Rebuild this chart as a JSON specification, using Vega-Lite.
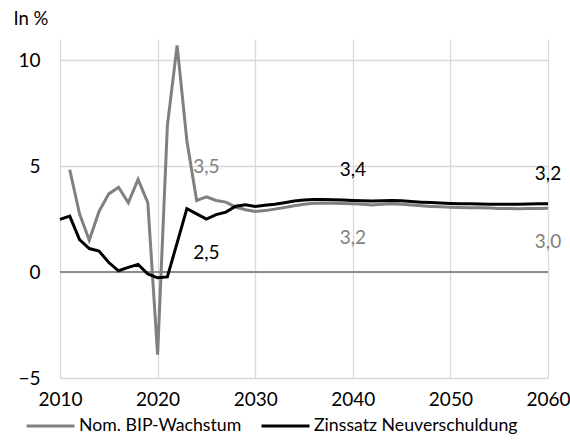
{
  "$schema": "https://vega.github.io/schema/vega-lite/v6.json",
  "width": 488,
  "height": 339,
  "autosize": {"type": "none"},
  "padding": {"left": 60, "top": 39, "right": 22, "bottom": 70},
  "background": "white",
  "config": {
    "font": "Lato",
    "view": {"stroke": null},
    "axis": {"labelFont": "Lato", "labelFontSize": 19, "labelColor": "#000000", "domain": false, "ticks": false, "gridColor": "#d9d9d9", "gridWidth": 1.3, "labelFlush": false}
  },
  "data": {"values": [
    {"year": 2011, "series": "Nom. BIP-Wachstum", "value": 4.83},
    {"year": 2012, "series": "Nom. BIP-Wachstum", "value": 2.75},
    {"year": 2013, "series": "Nom. BIP-Wachstum", "value": 1.5},
    {"year": 2014, "series": "Nom. BIP-Wachstum", "value": 2.86},
    {"year": 2015, "series": "Nom. BIP-Wachstum", "value": 3.69},
    {"year": 2016, "series": "Nom. BIP-Wachstum", "value": 4.0},
    {"year": 2017, "series": "Nom. BIP-Wachstum", "value": 3.27},
    {"year": 2018, "series": "Nom. BIP-Wachstum", "value": 4.37},
    {"year": 2019, "series": "Nom. BIP-Wachstum", "value": 3.27},
    {"year": 2020, "series": "Nom. BIP-Wachstum", "value": -3.9},
    {"year": 2021, "series": "Nom. BIP-Wachstum", "value": 6.9},
    {"year": 2022, "series": "Nom. BIP-Wachstum", "value": 10.7},
    {"year": 2023, "series": "Nom. BIP-Wachstum", "value": 6.2},
    {"year": 2024, "series": "Nom. BIP-Wachstum", "value": 3.38},
    {"year": 2025, "series": "Nom. BIP-Wachstum", "value": 3.55, "label": "3,5"},
    {"year": 2026, "series": "Nom. BIP-Wachstum", "value": 3.38},
    {"year": 2027, "series": "Nom. BIP-Wachstum", "value": 3.3},
    {"year": 2028, "series": "Nom. BIP-Wachstum", "value": 3.07},
    {"year": 2029, "series": "Nom. BIP-Wachstum", "value": 2.94},
    {"year": 2030, "series": "Nom. BIP-Wachstum", "value": 2.86},
    {"year": 2031, "series": "Nom. BIP-Wachstum", "value": 2.9},
    {"year": 2032, "series": "Nom. BIP-Wachstum", "value": 2.97},
    {"year": 2033, "series": "Nom. BIP-Wachstum", "value": 3.05},
    {"year": 2034, "series": "Nom. BIP-Wachstum", "value": 3.13},
    {"year": 2035, "series": "Nom. BIP-Wachstum", "value": 3.2},
    {"year": 2036, "series": "Nom. BIP-Wachstum", "value": 3.25},
    {"year": 2037, "series": "Nom. BIP-Wachstum", "value": 3.26},
    {"year": 2038, "series": "Nom. BIP-Wachstum", "value": 3.25},
    {"year": 2039, "series": "Nom. BIP-Wachstum", "value": 3.24},
    {"year": 2040, "series": "Nom. BIP-Wachstum", "value": 3.22, "label": "3,2"},
    {"year": 2041, "series": "Nom. BIP-Wachstum", "value": 3.2},
    {"year": 2042, "series": "Nom. BIP-Wachstum", "value": 3.17},
    {"year": 2043, "series": "Nom. BIP-Wachstum", "value": 3.2},
    {"year": 2044, "series": "Nom. BIP-Wachstum", "value": 3.22},
    {"year": 2045, "series": "Nom. BIP-Wachstum", "value": 3.2},
    {"year": 2046, "series": "Nom. BIP-Wachstum", "value": 3.17},
    {"year": 2047, "series": "Nom. BIP-Wachstum", "value": 3.13},
    {"year": 2048, "series": "Nom. BIP-Wachstum", "value": 3.1},
    {"year": 2049, "series": "Nom. BIP-Wachstum", "value": 3.08},
    {"year": 2050, "series": "Nom. BIP-Wachstum", "value": 3.06},
    {"year": 2051, "series": "Nom. BIP-Wachstum", "value": 3.05},
    {"year": 2052, "series": "Nom. BIP-Wachstum", "value": 3.04},
    {"year": 2053, "series": "Nom. BIP-Wachstum", "value": 3.03},
    {"year": 2054, "series": "Nom. BIP-Wachstum", "value": 3.02},
    {"year": 2055, "series": "Nom. BIP-Wachstum", "value": 3.0},
    {"year": 2056, "series": "Nom. BIP-Wachstum", "value": 3.0},
    {"year": 2057, "series": "Nom. BIP-Wachstum", "value": 2.99},
    {"year": 2058, "series": "Nom. BIP-Wachstum", "value": 3.0},
    {"year": 2059, "series": "Nom. BIP-Wachstum", "value": 3.0},
    {"year": 2060, "series": "Nom. BIP-Wachstum", "value": 3.01, "label": "3,0"},
    {"year": 2010, "series": "Zinssatz Neuverschuldung", "value": 2.49},
    {"year": 2011, "series": "Zinssatz Neuverschuldung", "value": 2.64},
    {"year": 2012, "series": "Zinssatz Neuverschuldung", "value": 1.53},
    {"year": 2013, "series": "Zinssatz Neuverschuldung", "value": 1.11},
    {"year": 2014, "series": "Zinssatz Neuverschuldung", "value": 0.99},
    {"year": 2015, "series": "Zinssatz Neuverschuldung", "value": 0.45},
    {"year": 2016, "series": "Zinssatz Neuverschuldung", "value": 0.06},
    {"year": 2017, "series": "Zinssatz Neuverschuldung", "value": 0.22},
    {"year": 2018, "series": "Zinssatz Neuverschuldung", "value": 0.36},
    {"year": 2019, "series": "Zinssatz Neuverschuldung", "value": -0.09},
    {"year": 2020, "series": "Zinssatz Neuverschuldung", "value": -0.27},
    {"year": 2021, "series": "Zinssatz Neuverschuldung", "value": -0.23},
    {"year": 2022, "series": "Zinssatz Neuverschuldung", "value": 1.38},
    {"year": 2023, "series": "Zinssatz Neuverschuldung", "value": 2.99},
    {"year": 2024, "series": "Zinssatz Neuverschuldung", "value": 2.75},
    {"year": 2025, "series": "Zinssatz Neuverschuldung", "value": 2.5, "label": "2,5"},
    {"year": 2026, "series": "Zinssatz Neuverschuldung", "value": 2.71},
    {"year": 2027, "series": "Zinssatz Neuverschuldung", "value": 2.83},
    {"year": 2028, "series": "Zinssatz Neuverschuldung", "value": 3.11},
    {"year": 2029, "series": "Zinssatz Neuverschuldung", "value": 3.18},
    {"year": 2030, "series": "Zinssatz Neuverschuldung", "value": 3.1},
    {"year": 2031, "series": "Zinssatz Neuverschuldung", "value": 3.15},
    {"year": 2032, "series": "Zinssatz Neuverschuldung", "value": 3.2},
    {"year": 2033, "series": "Zinssatz Neuverschuldung", "value": 3.27},
    {"year": 2034, "series": "Zinssatz Neuverschuldung", "value": 3.35},
    {"year": 2035, "series": "Zinssatz Neuverschuldung", "value": 3.4},
    {"year": 2036, "series": "Zinssatz Neuverschuldung", "value": 3.42},
    {"year": 2037, "series": "Zinssatz Neuverschuldung", "value": 3.42},
    {"year": 2038, "series": "Zinssatz Neuverschuldung", "value": 3.41},
    {"year": 2039, "series": "Zinssatz Neuverschuldung", "value": 3.4},
    {"year": 2040, "series": "Zinssatz Neuverschuldung", "value": 3.38, "label": "3,4"},
    {"year": 2041, "series": "Zinssatz Neuverschuldung", "value": 3.37},
    {"year": 2042, "series": "Zinssatz Neuverschuldung", "value": 3.35},
    {"year": 2043, "series": "Zinssatz Neuverschuldung", "value": 3.37},
    {"year": 2044, "series": "Zinssatz Neuverschuldung", "value": 3.38},
    {"year": 2045, "series": "Zinssatz Neuverschuldung", "value": 3.36},
    {"year": 2046, "series": "Zinssatz Neuverschuldung", "value": 3.33},
    {"year": 2047, "series": "Zinssatz Neuverschuldung", "value": 3.3},
    {"year": 2048, "series": "Zinssatz Neuverschuldung", "value": 3.28},
    {"year": 2049, "series": "Zinssatz Neuverschuldung", "value": 3.26},
    {"year": 2050, "series": "Zinssatz Neuverschuldung", "value": 3.24},
    {"year": 2051, "series": "Zinssatz Neuverschuldung", "value": 3.23},
    {"year": 2052, "series": "Zinssatz Neuverschuldung", "value": 3.22},
    {"year": 2053, "series": "Zinssatz Neuverschuldung", "value": 3.21},
    {"year": 2054, "series": "Zinssatz Neuverschuldung", "value": 3.2},
    {"year": 2055, "series": "Zinssatz Neuverschuldung", "value": 3.2},
    {"year": 2056, "series": "Zinssatz Neuverschuldung", "value": 3.2},
    {"year": 2057, "series": "Zinssatz Neuverschuldung", "value": 3.2},
    {"year": 2058, "series": "Zinssatz Neuverschuldung", "value": 3.21},
    {"year": 2059, "series": "Zinssatz Neuverschuldung", "value": 3.22},
    {"year": 2060, "series": "Zinssatz Neuverschuldung", "value": 3.22, "label": "3,2"}
  ]},
  "encoding": {
    "x": {"field": "year", "type": "quantitative", "scale": {"domain": [2010, 2060], "nice": false, "zero": false},
      "axis": {"values": [2010, 2020, 2030, 2040, 2050, 2060], "format": "d", "title": null, "labelPadding": 12, "grid": true}},
    "y": {"field": "value", "type": "quantitative", "scale": {"domain": [-5, 11], "nice": false},
      "axis": {"values": [-5, 0, 5, 10], "title": "In %", "titleAngle": 0, "titleX": -47, "titleY": -21, "titleAlign": "left", "titleBaseline": "middle", "titleFont": "Lato", "titleFontSize": 18.5, "titleFontWeight": "normal", "labelPadding": 20}}
  },
  "layer": [
    {"mark": {"type": "rule", "color": "#8c8c8c", "strokeWidth": 1.3}, "encoding": {"y": {"datum": 0}, "x": null}},
    {"mark": {"type": "line", "strokeWidth": 3},
      "encoding": {"color": {"field": "series", "type": "nominal",
        "scale": {"domain": ["Nom. BIP-Wachstum", "Zinssatz Neuverschuldung"], "range": ["#808080", "#000000"]},
        "legend": {"title": null, "orient": "none", "direction": "horizontal", "legendX": -35, "legendY": 361,
          "symbolType": "stroke", "symbolSize": 2300, "symbolStrokeWidth": 3, "labelFontSize": 17.7, "labelFont": "Lato", "labelColor": "#000000", "labelOffset": 3, "columnPadding": 13, "labelLimit": 400}}}},
    {"transform": [{"filter": "datum.label && ((datum.series == 'Nom. BIP-Wachstum' && datum.year == 2025) || (datum.series == 'Zinssatz Neuverschuldung' && datum.year != 2025))"}],
      "mark": {"type": "text", "dy": -30, "fontSize": 19, "font": "Lato"},
      "encoding": {"text": {"field": "label"}, "color": {"field": "series", "type": "nominal", "scale": {"range": ["#808080", "#000000"]}, "legend": null}}},
    {"transform": [{"filter": "datum.label && !((datum.series == 'Nom. BIP-Wachstum' && datum.year == 2025) || (datum.series == 'Zinssatz Neuverschuldung' && datum.year != 2025))"}],
      "mark": {"type": "text", "dy": 34, "fontSize": 19, "font": "Lato"},
      "encoding": {"text": {"field": "label"}, "color": {"field": "series", "type": "nominal", "scale": {"range": ["#808080", "#000000"]}, "legend": null}}}
  ]
}
